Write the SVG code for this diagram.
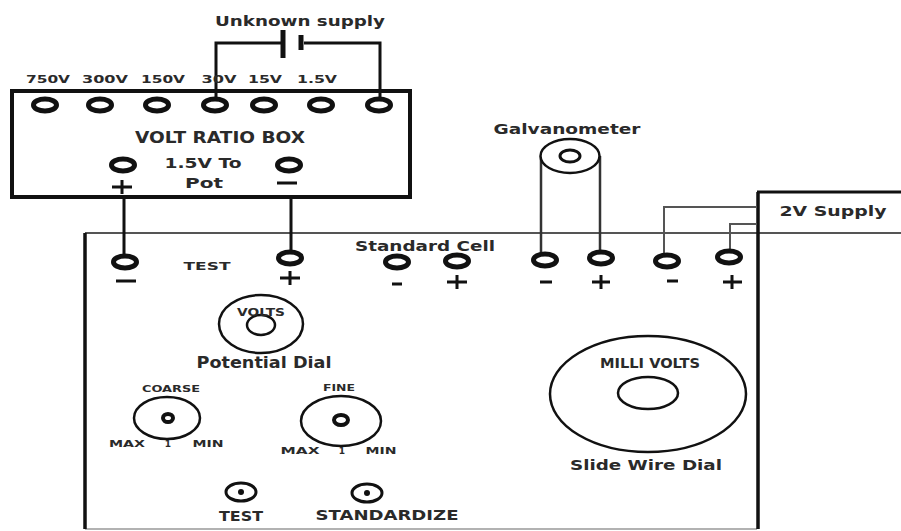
<svg xmlns="http://www.w3.org/2000/svg" width="901" height="531" viewBox="0 0 901 531">
<style>
text{font-family:"DejaVu Sans","Liberation Sans",sans-serif;fill:#2a2a2a;text-anchor:middle;font-weight:700}
.w{fill:none;stroke:#111;stroke-width:3}
.g{fill:none;stroke:#555;stroke-width:2}
.t{fill:#fff;stroke:#111;stroke-width:5}
.d{fill:#fff;stroke:#111;stroke-width:2.5}
.n{fill:none;stroke:#111;stroke-width:2.5}
.s{font-size:11px}.m{font-size:14px}.x{font-size:9px}
</style>
<rect width="901" height="531" fill="#fff"/>
<g id="potentiometer-box">
<path d="M85 233H901" class="g"/>
<path d="M85 529H757" fill="none" stroke="#999" stroke-width="1.5"/>
<path d="M85 233V529" class="w" style="stroke-width:3.5"/>
<path d="M758 529V192" class="w" style="stroke-width:3.5"/>
</g>
<g id="supply-box">
<path d="M757 192H901" class="w"/>
<text x="833" y="216" class="m" textLength="107" lengthAdjust="spacingAndGlyphs">2V Supply</text>
</g>
<g id="connectors">
<path d="M216 101V43H283M304 43H380V100" class="w"/>
<path d="M124 197V254M291 197V252" class="w"/>
<path d="M541 156V252M600 156V252" fill="none" stroke="#333" stroke-width="2.5"/>
<path d="M664 254V207H757M730 250V224H757" class="g"/>
</g>
<g id="unknown-supply">
<text x="300" y="26" class="m" textLength="170" lengthAdjust="spacingAndGlyphs">Unknown supply</text>
<path d="M283 30V58" class="w" style="stroke-width:5"/>
<path d="M301 35V50" class="w" style="stroke-width:5"/>
</g>
<g id="volt-ratio-box">
<rect x="12" y="91" width="398" height="106" fill="none" stroke="#111" stroke-width="4"/>
<text x="48" y="83" class="s" textLength="44" lengthAdjust="spacingAndGlyphs">750V</text>
<text x="105" y="83" class="s" textLength="46" lengthAdjust="spacingAndGlyphs">300V</text>
<text x="163" y="83" class="s" textLength="44" lengthAdjust="spacingAndGlyphs">150V</text>
<text x="219" y="83" class="s" textLength="35" lengthAdjust="spacingAndGlyphs">30V</text>
<text x="265" y="83" class="s" textLength="34" lengthAdjust="spacingAndGlyphs">15V</text>
<text x="317" y="83" class="s" textLength="40" lengthAdjust="spacingAndGlyphs">1.5V</text>
<ellipse class="t" cx="45" cy="105" rx="11.500" ry="6"/>
<ellipse class="t" cx="100" cy="105" rx="11.500" ry="6"/>
<ellipse class="t" cx="157" cy="105" rx="11.500" ry="6"/>
<ellipse class="t" cx="215" cy="105" rx="11.500" ry="6"/>
<ellipse class="t" cx="264" cy="105" rx="11.500" ry="6"/>
<ellipse class="t" cx="321" cy="105" rx="11.500" ry="6"/>
<ellipse class="t" cx="379" cy="105" rx="11.500" ry="6"/>
<text x="220" y="143" style="font-size:15px" textLength="170" lengthAdjust="spacingAndGlyphs">VOLT RATIO BOX</text>
<text x="203" y="168" class="m" textLength="77" lengthAdjust="spacingAndGlyphs">1.5V To</text>
<text x="204" y="188" class="m" textLength="38" lengthAdjust="spacingAndGlyphs">Pot</text>
<ellipse class="t" cx="123" cy="165" rx="11.500" ry="6"/>
<ellipse class="t" cx="289" cy="165" rx="11.500" ry="6"/>
<path d="M112 187H132M122 180V194M277 183H297" class="w"/>
</g>
<g id="terminals">
<ellipse class="t" cx="125" cy="262" rx="11.500" ry="6"/>
<ellipse class="t" cx="290" cy="258" rx="11.500" ry="6"/>
<ellipse class="t" cx="397" cy="262" rx="11.500" ry="6"/>
<ellipse class="t" cx="457" cy="261" rx="11.500" ry="6"/>
<ellipse class="t" cx="545" cy="260" rx="11.500" ry="6"/>
<ellipse class="t" cx="601" cy="258" rx="11.500" ry="6"/>
<ellipse class="t" cx="667" cy="261" rx="11.500" ry="6"/>
<ellipse class="t" cx="729" cy="257" rx="11.500" ry="6"/>
<path d="M116 281H136M280 278H300M290 271V285M392 284H402M447 282H467M457 275V289M540 282H552M592 282H610M601 275V289M667 281H678M723 282H742M732 275V289" class="w"/>
<text x="207" y="270" class="s" textLength="47" lengthAdjust="spacingAndGlyphs">TEST</text>
<text x="425" y="251" class="m" textLength="140" lengthAdjust="spacingAndGlyphs">Standard Cell</text>
</g>
<g id="galvanometer">
<text x="567" y="134" class="m" textLength="147" lengthAdjust="spacingAndGlyphs">Galvanometer</text>
<ellipse class="d" cx="570" cy="156" rx="29.500" ry="17"/>
<ellipse class="t" style="stroke-width:3" cx="570" cy="156" rx="10" ry="6"/>
</g>
<g id="volts-dial">
<ellipse class="n" cx="261" cy="324" rx="42" ry="29"/>
<ellipse class="n" cx="261" cy="325" rx="14" ry="10"/>
<text x="261" y="316" class="s" textLength="48" lengthAdjust="spacingAndGlyphs">VOLTS</text>
<text x="264" y="368" style="font-size:15px" textLength="135" lengthAdjust="spacingAndGlyphs">Potential Dial</text>
</g>
<g id="coarse-dial">
<text x="171" y="392" class="x" textLength="58" lengthAdjust="spacingAndGlyphs">COARSE</text>
<ellipse class="n" cx="167" cy="418" rx="33" ry="21"/>
<ellipse class="t" style="stroke-width:4" cx="168" cy="418" rx="5" ry="4"/>
<text x="127" y="447" class="x" textLength="36" lengthAdjust="spacingAndGlyphs">MAX</text>
<text x="168" y="447" class="x">1</text>
<text x="208" y="447" class="x" textLength="31" lengthAdjust="spacingAndGlyphs">MIN</text>
</g>
<g id="fine-dial">
<text x="339" y="391" class="x" textLength="32" lengthAdjust="spacingAndGlyphs">FINE</text>
<ellipse class="n" cx="341" cy="421" rx="40" ry="25"/>
<ellipse class="t" style="stroke-width:4" cx="341" cy="420" rx="7" ry="5"/>
<text x="300" y="454" class="x" textLength="39" lengthAdjust="spacingAndGlyphs">MAX</text>
<text x="342" y="454" class="x">1</text>
<text x="381" y="454" class="x" textLength="31" lengthAdjust="spacingAndGlyphs">MIN</text>
</g>
<g id="test-button">
<ellipse class="n" style="stroke-width:3" cx="241" cy="492" rx="15" ry="9"/>
<circle cx="241" cy="492" r="3" fill="#111"/>
<text x="241" y="521" class="m" textLength="44" lengthAdjust="spacingAndGlyphs">TEST</text>
</g>
<g id="standardize-button">
<ellipse class="n" style="stroke-width:3" cx="367" cy="493" rx="15" ry="9"/>
<circle cx="367" cy="493" r="3" fill="#111"/>
<text x="387" y="520" class="m" textLength="143" lengthAdjust="spacingAndGlyphs">STANDARDIZE</text>
</g>
<g id="millivolts-dial">
<ellipse class="n" cx="648" cy="394" rx="98" ry="58"/>
<ellipse class="n" cx="648" cy="393" rx="30" ry="16"/>
<text x="650" y="368" class="m" textLength="100" lengthAdjust="spacingAndGlyphs">MILLI VOLTS</text>
<text x="646" y="470" class="m" textLength="152" lengthAdjust="spacingAndGlyphs">Slide Wire Dial</text>
</g>
</svg>
